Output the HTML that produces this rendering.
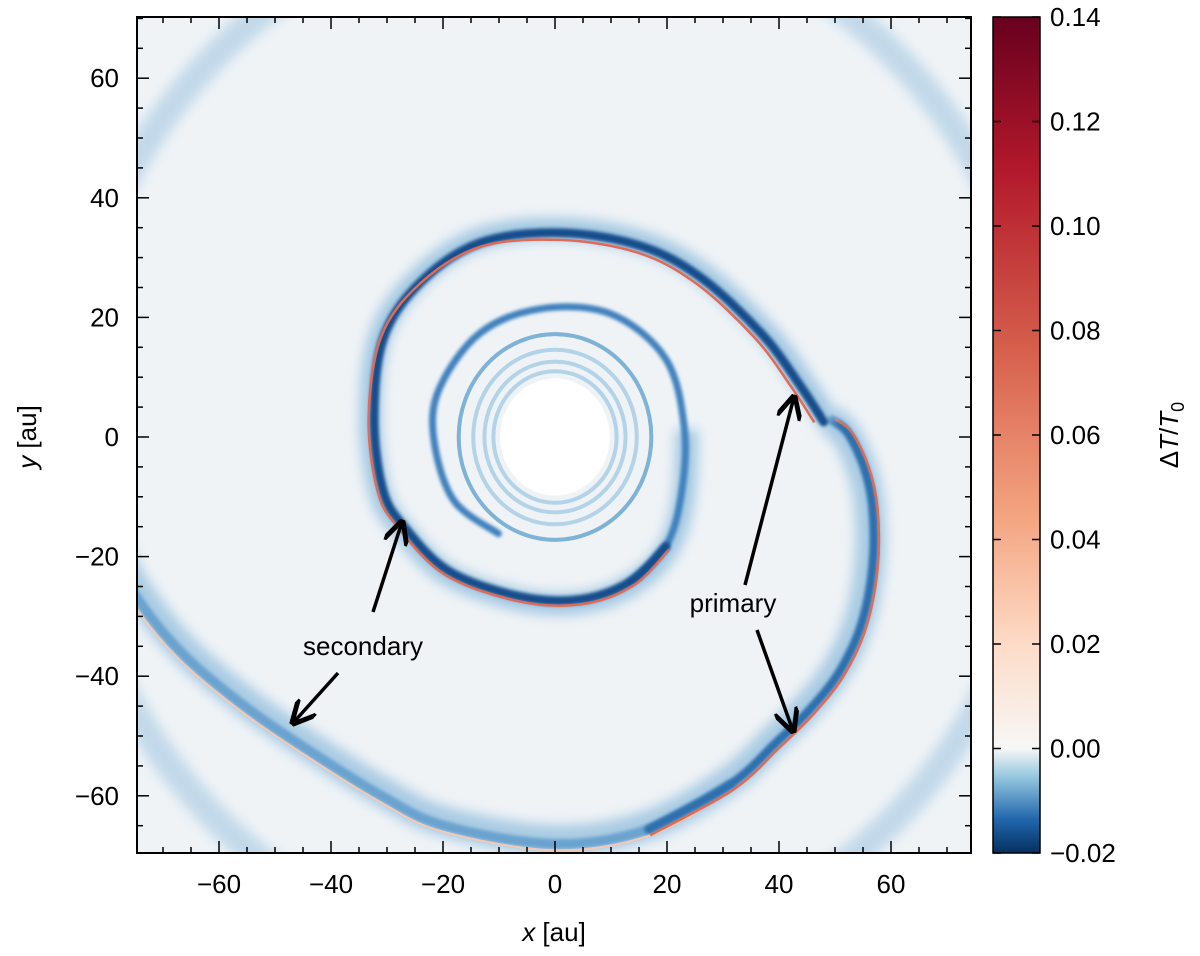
<!DOCTYPE html>
<html><head><meta charset="utf-8"><style>
body{margin:0;background:#fff;width:1200px;height:951px;overflow:hidden}
svg{font-family:"Liberation Sans",sans-serif}
</style></head><body>
<svg id="fig" width="1200" height="951">
<defs>
<linearGradient id="cb" x1="0" y1="1" x2="0" y2="0">
<stop offset="0" stop-color="#053061"/><stop offset="0.04" stop-color="#2166ac"/><stop offset="0.09" stop-color="#92c5de"/><stop offset="0.125" stop-color="#f7f7f7"/><stop offset="0.25" stop-color="#fddbc7"/><stop offset="0.4" stop-color="#f4a582"/><stop offset="0.6" stop-color="#d6604d"/><stop offset="0.82" stop-color="#b2182b"/><stop offset="1" stop-color="#67001f"/>
</linearGradient>
<clipPath id="pc"><rect x="137" y="17" width="834" height="836"/></clipPath>
<filter id="bl" x="-20%" y="-20%" width="140%" height="140%"><feGaussianBlur stdDeviation="6"/></filter>
<filter id="bl2" x="-20%" y="-20%" width="140%" height="140%"><feGaussianBlur stdDeviation="1.5"/></filter>
<marker id="ah" viewBox="0 0 10 10" refX="9" refY="5" markerWidth="7" markerHeight="7" orient="auto"><path d="M0,0 L10,5 L0,10" fill="none" stroke="#000" stroke-width="2"/></marker>
</defs>
<rect x="137" y="17" width="834" height="836" fill="#eff3f6"/>
<g id="plot" clip-path="url(#pc)"></g>
<g id="axes"></g>
<rect x="993" y="17" width="47" height="836" fill="url(#cb)" stroke="#000" stroke-width="1.5"/>
<g id="cbt"></g>
<text x="554" y="941" font-size="26" text-anchor="middle"><tspan font-style="italic">x</tspan> [au]</text>
<text transform="translate(36,437) rotate(-90)" font-size="26" text-anchor="middle"><tspan font-style="italic">y</tspan> [au]</text>
<text transform="translate(1178,435) rotate(-90)" font-size="26" text-anchor="middle">Δ<tspan font-style="italic">T</tspan>/<tspan font-style="italic">T</tspan><tspan font-size="18" dy="6">0</tspan></text>
<g stroke="#000" stroke-width="3.5" fill="none">
<line x1="373" y1="612" x2="402" y2="522" marker-end="url(#ah)"/>
<line x1="338" y1="673" x2="293" y2="723" marker-end="url(#ah)"/>
<line x1="745" y1="585" x2="794" y2="397" marker-end="url(#ah)"/>
<line x1="757" y1="630" x2="793" y2="731" marker-end="url(#ah)"/>
</g>
<text x="363" y="655" font-size="26" text-anchor="middle">secondary</text>
<text x="733" y="612" font-size="26" text-anchor="middle">primary</text>
</svg>
<script>
const innerArmX=[47.5,43.2,36.6,25.9,15.2,0.9,-13.4,-24,-30.4,-32,-30.4,-26.8,-18.8,-6.3,4.5,13.4,19.6,22.3,22.9,19.6,9.8,-2.7,-13.4,-20.5,-21.4,-17.9,-10];
const innerArmY=[2.5,8.7,17,26.3,31.6,33.8,32.1,25.4,16.2,2.8,-8.9,-14.7,-22.2,-26.4,-26.9,-23.9,-18.1,-9.7,1.2,12.9,20.4,21.2,17.1,7.9,-0.5,-10.5,-16];
const outerArmX=[50,53,56,57.6,57.6,55.5,51.5,46,40,31.8,17,0,-20,-31.3,-45.5,-56.3,-67,-74.6,-80,-84];
const outerArmY=[3,0.8,-5,-12,-22,-32,-40,-46.5,-52,-59,-66.6,-69.1,-66,-61,-52.7,-45.7,-37.3,-28.9,-20,-5];
const ringRadii=[17.2,14.6,12.6,11];
const faintRingRadii=[88];
const xTicks=[-60,-40,-20,0,20,40,60];
const yTicks=[-60,-40,-20,0,20,40,60];
const cbTicks=[-0.02,0,0.02,0.04,0.06,0.08,0.10,0.12,0.14];
const NS='http://www.w3.org/2000/svg';
const sx=x=>555+5.6*x, sy=y=>437-5.98*y;
const cbY=v=>853-(v+0.02)/0.16*836;
function mk(tag,at,par){const e=document.createElementNS(NS,tag);for(const k in at)e.setAttribute(k,at[k]);par.appendChild(e);return e;}
function pathOf(X,Y,scale,a,b){a=a||0;b=b||X.length;const sc=typeof scale=='function'?scale:()=>scale;
const p=X.slice(a,b).map((x,i)=>{const s=sc(i+a);return [sx(x*s),sy(Y[i+a]*s)];});let d='M'+p[0][0]+','+p[0][1];
for(let i=0;i<p.length-1;i++){const p0=p[Math.max(i-1,0)],p1=p[i],p2=p[i+1],p3=p[Math.min(i+2,p.length-1)];
d+=' C'+(p1[0]+(p2[0]-p0[0])/6)+','+(p1[1]+(p2[1]-p0[1])/6)+' '+(p2[0]-(p3[0]-p1[0])/6)+','+(p2[1]-(p3[1]-p1[1])/6)+' '+p2[0]+','+p2[1];}return d;}
const g=document.getElementById('plot');
faintRingRadii.forEach(r=>{
const e=mk('ellipse',{cx:sx(0),cy:sy(0),rx:5.6*r,ry:5.98*r,fill:'none',stroke:'#c2d9ea',"stroke-width":28,filter:'url(#bl)'},g);


});
ringRadii.forEach((r,i)=>{
const e=mk('ellipse',{cx:sx(0),cy:sy(0),rx:5.6*r,ry:5.98*r,fill:'none',stroke:i==0?'#7eb2d6':'#b3d3e8',"stroke-width":4},g);


});
let e=mk('path',{d:pathOf(outerArmX,outerArmY,0.975),fill:'none',stroke:'#a8cbe3',"stroke-width":30,filter:'url(#bl)'},g);


e=mk('path',{d:pathOf(outerArmX,outerArmY,0.985,9),fill:'none',stroke:'#6aa3cf',"stroke-width":10,filter:'url(#bl2)',"stroke-linecap":"round"},g);


e=mk('path',{d:pathOf(outerArmX,outerArmY,0.985,0,11),fill:'none',stroke:'#2f6fae',"stroke-width":9,filter:'url(#bl2)',"stroke-linecap":"round"},g);


e=mk('path',{d:pathOf(outerArmX,outerArmY,1.0,9),fill:'none',stroke:'#f6c9b6',"stroke-width":2},g);


e=mk('path',{d:pathOf(outerArmX,outerArmY,1.0,0,11),fill:'none',stroke:'#e06a52',"stroke-width":2.5},g);


e=mk('path',{d:pathOf(innerArmX,innerArmY,1.03,0,19),fill:'none',stroke:'#a3c8e2',"stroke-width":22,filter:'url(#bl)'},g);


e=mk('path',{d:pathOf(innerArmX,innerArmY,1.01,15),fill:'none',stroke:'#3f81bd',"stroke-width":7,filter:'url(#bl2)',"stroke-linecap":"round"},g);


e=mk('path',{d:pathOf(innerArmX,innerArmY,1.01,0,17),fill:'none',stroke:'#124d8c',"stroke-width":9,filter:'url(#bl2)',"stroke-linecap":"round"},g);


const redScale=i=>i<=5?0.975:(i>=9?1.04:0.975+(i-5)*0.01625);
e=mk('path',{d:pathOf(innerArmX,innerArmY,redScale,0,17),fill:'none',stroke:'#e06a55',"stroke-width":2.5},g);


e=mk('ellipse',{cx:sx(0),cy:sy(0),rx:5.6*9.8,ry:5.98*9.8,fill:'#fff'},g);


const ax=document.getElementById('axes');
e=mk('rect',{x:137,y:17,width:834,height:836,fill:'none',stroke:'#000',"stroke-width":2},ax);


for(let v=-70;v<=70;v+=5){const major=v%20==0,L=major?12:6;
const X=sx(v);if(X>137&&X<971){mk('line',{x1:X,y1:853,x2:X,y2:853-L,stroke:'#000',"stroke-width":1.5},ax);mk('line',{x1:X,y1:17,x2:X,y2:17+L,stroke:'#000',"stroke-width":1.5},ax);}
const Y=sy(v);if(Y>17&&Y<853){mk('line',{x1:137,y1:Y,x2:137+L,y2:Y,stroke:'#000',"stroke-width":1.5},ax);mk('line',{x1:971,y1:Y,x2:971-L,y2:Y,stroke:'#000',"stroke-width":1.5},ax);}}
const fmt=v=>(v<0?'\u2212':'')+Math.abs(v);
xTicks.forEach(v=>{const t=mk('text',{x:sx(v),y:893,"font-size":26,"text-anchor":"middle"},ax);t.textContent=fmt(v);

});
yTicks.forEach(v=>{const t=mk('text',{x:119,y:sy(v)+9,"font-size":26,"text-anchor":"end"},ax);t.textContent=fmt(v);

});
const cb=document.getElementById('cbt');
cbTicks.forEach(v=>{const Y=cbY(v);mk('line',{x1:993,y1:Y,x2:1001,y2:Y,stroke:'#000',"stroke-width":1.5},cb);mk('line',{x1:1040,y1:Y,x2:1032,y2:Y,stroke:'#000',"stroke-width":1.5},cb);
const t=mk('text',{x:1050,y:Y+9,"font-size":26},cb);t.textContent=(v<0?'\u2212':'')+Math.abs(v).toFixed(2);

});
</script>
</body></html>
